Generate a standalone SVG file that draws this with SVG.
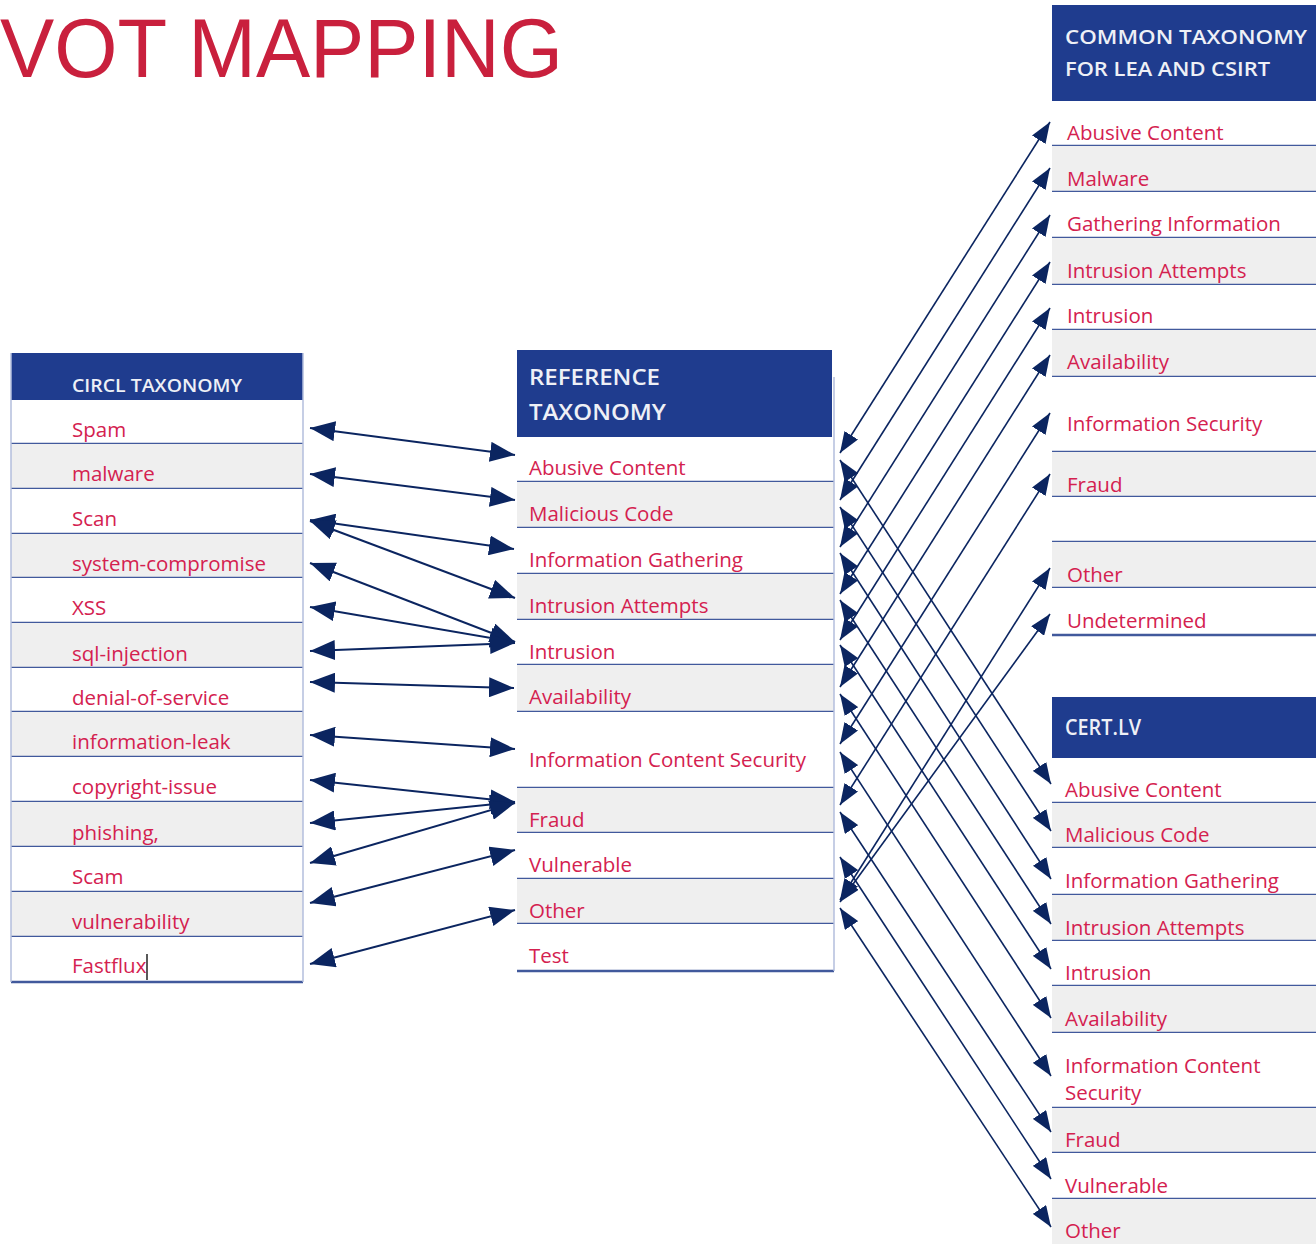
<svg xmlns="http://www.w3.org/2000/svg" width="1316" height="1244" viewBox="0 0 1316 1244">
  <style>
    .title { font-family: "Liberation Sans", Arial, sans-serif; font-size: 84px; fill: #c9203d; }
    .hdr { fill: #1f3c8e; }
    .hdrtxt { font-family: "Open Sans", "Liberation Sans", sans-serif; font-weight: 600; fill: #eef0f6; }
    .item { font-family: "Open Sans", "Liberation Sans", sans-serif; font-size: 20.5px; fill: #d4214f; }
    .gray { fill: #efefef; }
    .white { fill: #ffffff; }
    .sep { stroke: #41599c; stroke-width: 2.5; }
    .edge { stroke: #b3bedd; stroke-width: 1.5; fill: none; }
    .lnL { stroke: #0b2560; stroke-width: 2; fill: none; marker-start: url(#ahL); marker-end: url(#ahL); }
    .lnR { stroke: #0b2560; stroke-width: 1.6; fill: none; marker-start: url(#ahR); marker-end: url(#ahR); }
  </style>
  <defs>
    <marker id="ahL" markerUnits="userSpaceOnUse" viewBox="0 0 26 20" markerWidth="26" markerHeight="20" refX="25" refY="10" orient="auto-start-reverse">
      <path d="M0,0 L25,10 L0,20 z" fill="#0b2560"/>
    </marker>
    <marker id="ahR" markerUnits="userSpaceOnUse" viewBox="0 0 22 16" markerWidth="22" markerHeight="16" refX="21" refY="8" orient="auto-start-reverse">
      <path d="M0,0 L21,8 L0,16 z" fill="#0b2560"/>
    </marker>
  </defs>

  <rect x="0" y="0" width="1316" height="1244" fill="#ffffff"/>

  <text class="title" x="0" y="77" textLength="563" lengthAdjust="spacingAndGlyphs">VOT MAPPING</text>

  <!-- CIRCL taxonomy -->
  <g id="circl">
    <g id="circl-header">
      <rect class="hdr" x="11" y="353" width="292" height="47"/>
      <text class="hdrtxt" x="72" y="392" font-size="17.5" textLength="170" lengthAdjust="spacingAndGlyphs">CIRCL TAXONOMY</text>
    </g>
    <g id="circl-spam"><rect class="white" x="11" y="400" width="292" height="44"/><text class="item" x="72" y="437">Spam</text><line class="sep" x1="11" y1="444" x2="303" y2="444"/></g>
    <g id="circl-malware"><rect class="gray" x="11" y="444" width="292" height="45"/><text class="item" x="72" y="481">malware</text><line class="sep" x1="11" y1="489" x2="303" y2="489"/></g>
    <g id="circl-scan"><rect class="white" x="11" y="489" width="292" height="45"/><text class="item" x="72" y="526">Scan</text><line class="sep" x1="11" y1="534" x2="303" y2="534"/></g>
    <g id="circl-system-compromise"><rect class="gray" x="11" y="534" width="292" height="44"/><text class="item" x="72" y="571">system-compromise</text><line class="sep" x1="11" y1="578" x2="303" y2="578"/></g>
    <g id="circl-xss"><rect class="white" x="11" y="578" width="292" height="45"/><text class="item" x="72" y="615">XSS</text><line class="sep" x1="11" y1="623" x2="303" y2="623"/></g>
    <g id="circl-sql-injection"><rect class="gray" x="11" y="623" width="292" height="45"/><text class="item" x="72" y="661">sql-injection</text><line class="sep" x1="11" y1="668" x2="303" y2="668"/></g>
    <g id="circl-denial-of-service"><rect class="white" x="11" y="668" width="292" height="44"/><text class="item" x="72" y="705">denial-of-service</text><line class="sep" x1="11" y1="712" x2="303" y2="712"/></g>
    <g id="circl-information-leak"><rect class="gray" x="11" y="712" width="292" height="45"/><text class="item" x="72" y="749">information-leak</text><line class="sep" x1="11" y1="757" x2="303" y2="757"/></g>
    <g id="circl-copyright-issue"><rect class="white" x="11" y="757" width="292" height="45"/><text class="item" x="72" y="794">copyright-issue</text><line class="sep" x1="11" y1="802" x2="303" y2="802"/></g>
    <g id="circl-phishing"><rect class="gray" x="11" y="802" width="292" height="45"/><text class="item" x="72" y="840">phishing,</text><line class="sep" x1="11" y1="847" x2="303" y2="847"/></g>
    <g id="circl-scam"><rect class="white" x="11" y="847" width="292" height="45"/><text class="item" x="72" y="884">Scam</text><line class="sep" x1="11" y1="892" x2="303" y2="892"/></g>
    <g id="circl-vulnerability"><rect class="gray" x="11" y="892" width="292" height="45"/><text class="item" x="72" y="929">vulnerability</text><line class="sep" x1="11" y1="937" x2="303" y2="937"/></g>
    <g id="circl-fastflux"><rect class="white" x="11" y="937" width="292" height="45"/><text class="item" x="72" y="973">Fastflux</text><line x1="147" y1="954" x2="147" y2="980" stroke="#222222" stroke-width="1.5"/><line class="sep" x1="11" y1="982" x2="303" y2="982"/></g>
    <line class="edge" x1="11" y1="353" x2="11" y2="982"/>
    <line class="edge" x1="303" y1="353" x2="303" y2="982"/>
  </g>

  <!-- Reference taxonomy -->
  <g id="reference">
    <g id="reference-header">
      <rect class="hdr" x="517" y="350" width="315" height="87"/>
      <text class="hdrtxt" x="529" y="385" font-size="21" textLength="131" lengthAdjust="spacingAndGlyphs">REFERENCE</text>
      <text class="hdrtxt" x="529" y="420" font-size="21" textLength="137" lengthAdjust="spacingAndGlyphs">TAXONOMY</text>
    </g>
    <g id="ref-abusive-content"><rect class="white" x="517" y="437" width="317" height="45"/><text class="item" x="529" y="475">Abusive Content</text><line class="sep" x1="517" y1="482" x2="834" y2="482"/></g>
    <g id="ref-malicious-code"><rect class="gray" x="517" y="482" width="317" height="46"/><text class="item" x="529" y="521">Malicious Code</text><line class="sep" x1="517" y1="528" x2="834" y2="528"/></g>
    <g id="ref-information-gathering"><rect class="white" x="517" y="528" width="317" height="46"/><text class="item" x="529" y="567">Information Gathering</text><line class="sep" x1="517" y1="574" x2="834" y2="574"/></g>
    <g id="ref-intrusion-attempts"><rect class="gray" x="517" y="574" width="317" height="46"/><text class="item" x="529" y="613">Intrusion Attempts</text><line class="sep" x1="517" y1="620" x2="834" y2="620"/></g>
    <g id="ref-intrusion"><rect class="white" x="517" y="620" width="317" height="45"/><text class="item" x="529" y="659">Intrusion</text><line class="sep" x1="517" y1="665" x2="834" y2="665"/></g>
    <g id="ref-availability"><rect class="gray" x="517" y="665" width="317" height="47"/><text class="item" x="529" y="704">Availability</text><line class="sep" x1="517" y1="712" x2="834" y2="712"/></g>
    <g id="ref-information-content-security"><rect class="white" x="517" y="712" width="317" height="76"/><text class="item" x="529" y="767">Information Content Security</text><line class="sep" x1="517" y1="788" x2="834" y2="788"/></g>
    <g id="ref-fraud"><rect class="gray" x="517" y="788" width="317" height="45"/><text class="item" x="529" y="827">Fraud</text><line class="sep" x1="517" y1="833" x2="834" y2="833"/></g>
    <g id="ref-vulnerable"><rect class="white" x="517" y="833" width="317" height="46"/><text class="item" x="529" y="872">Vulnerable</text><line class="sep" x1="517" y1="879" x2="834" y2="879"/></g>
    <g id="ref-other"><rect class="gray" x="517" y="879" width="317" height="45"/><text class="item" x="529" y="918">Other</text><line class="sep" x1="517" y1="924" x2="834" y2="924"/></g>
    <g id="ref-test"><rect class="white" x="517" y="924" width="317" height="47"/><text class="item" x="529" y="963">Test</text><line class="sep" x1="517" y1="971" x2="834" y2="971"/></g>
    <line class="edge" x1="834" y1="377" x2="834" y2="971"/>
  </g>

  <!-- Common taxonomy for LEA and CSIRT -->
  <g id="common">
    <g id="common-header">
      <rect class="hdr" x="1052" y="5" width="264" height="96"/>
      <text class="hdrtxt" x="1065" y="44" font-size="20" textLength="242" lengthAdjust="spacingAndGlyphs">COMMON TAXONOMY</text>
      <text class="hdrtxt" x="1065" y="76" font-size="20" textLength="205" lengthAdjust="spacingAndGlyphs">FOR LEA AND CSIRT</text>
    </g>
    <g id="common-abusive-content"><rect class="white" x="1052" y="101" width="264" height="45"/><text class="item" x="1067" y="140">Abusive Content</text><line class="sep" x1="1052" y1="146" x2="1316" y2="146"/></g>
    <g id="common-malware"><rect class="gray" x="1052" y="146" width="264" height="46"/><text class="item" x="1067" y="186">Malware</text><line class="sep" x1="1052" y1="192" x2="1316" y2="192"/></g>
    <g id="common-gathering-information"><rect class="white" x="1052" y="192" width="264" height="46"/><text class="item" x="1067" y="231">Gathering Information</text><line class="sep" x1="1052" y1="238" x2="1316" y2="238"/></g>
    <g id="common-intrusion-attempts"><rect class="gray" x="1052" y="238" width="264" height="47"/><text class="item" x="1067" y="278">Intrusion Attempts</text><line class="sep" x1="1052" y1="285" x2="1316" y2="285"/></g>
    <g id="common-intrusion"><rect class="white" x="1052" y="285" width="264" height="45"/><text class="item" x="1067" y="323">Intrusion</text><line class="sep" x1="1052" y1="330" x2="1316" y2="330"/></g>
    <g id="common-availability"><rect class="gray" x="1052" y="330" width="264" height="47"/><text class="item" x="1067" y="369">Availability</text><line class="sep" x1="1052" y1="377" x2="1316" y2="377"/></g>
    <g id="common-information-security"><rect class="white" x="1052" y="377" width="264" height="75"/><text class="item" x="1067" y="431">Information Security</text><line class="sep" x1="1052" y1="452" x2="1316" y2="452"/></g>
    <g id="common-fraud"><rect class="gray" x="1052" y="452" width="264" height="45"/><text class="item" x="1067" y="492">Fraud</text><line class="sep" x1="1052" y1="497" x2="1316" y2="497"/></g>
    <g id="common-blank"><rect class="white" x="1052" y="497" width="264" height="45"/><line class="sep" x1="1052" y1="542" x2="1316" y2="542"/></g>
    <g id="common-other"><rect class="gray" x="1052" y="542" width="264" height="46"/><text class="item" x="1067" y="582">Other</text><line class="sep" x1="1052" y1="588" x2="1316" y2="588"/></g>
    <g id="common-undetermined"><rect class="white" x="1052" y="588" width="264" height="47"/><text class="item" x="1067" y="628">Undetermined</text><line class="sep" x1="1052" y1="635" x2="1316" y2="635"/></g>
  </g>

  <!-- CERT.LV -->
  <g id="certlv">
    <g id="certlv-header">
      <rect class="hdr" x="1052" y="697" width="264" height="61"/>
      <text class="hdrtxt" x="1065" y="735" font-size="21" textLength="76" lengthAdjust="spacingAndGlyphs">CERT.LV</text>
    </g>
    <g id="cert-abusive-content"><rect class="white" x="1052" y="758" width="264" height="45"/><text class="item" x="1065" y="797">Abusive Content</text><line class="sep" x1="1052" y1="803" x2="1316" y2="803"/></g>
    <g id="cert-malicious-code"><rect class="gray" x="1052" y="803" width="264" height="45"/><text class="item" x="1065" y="842">Malicious Code</text><line class="sep" x1="1052" y1="848" x2="1316" y2="848"/></g>
    <g id="cert-information-gathering"><rect class="white" x="1052" y="848" width="264" height="47"/><text class="item" x="1065" y="888">Information Gathering</text><line class="sep" x1="1052" y1="895" x2="1316" y2="895"/></g>
    <g id="cert-intrusion-attempts"><rect class="gray" x="1052" y="895" width="264" height="46"/><text class="item" x="1065" y="935">Intrusion Attempts</text><line class="sep" x1="1052" y1="941" x2="1316" y2="941"/></g>
    <g id="cert-intrusion"><rect class="white" x="1052" y="941" width="264" height="45"/><text class="item" x="1065" y="980">Intrusion</text><line class="sep" x1="1052" y1="986" x2="1316" y2="986"/></g>
    <g id="cert-availability"><rect class="gray" x="1052" y="986" width="264" height="47"/><text class="item" x="1065" y="1026">Availability</text><line class="sep" x1="1052" y1="1033" x2="1316" y2="1033"/></g>
    <g id="cert-information-content-security"><rect class="white" x="1052" y="1033" width="264" height="75"/><text class="item" x="1065" y="1073">Information Content</text><text class="item" x="1065" y="1100">Security</text><line class="sep" x1="1052" y1="1108" x2="1316" y2="1108"/></g>
    <g id="cert-fraud"><rect class="gray" x="1052" y="1108" width="264" height="45"/><text class="item" x="1065" y="1147">Fraud</text><line class="sep" x1="1052" y1="1153" x2="1316" y2="1153"/></g>
    <g id="cert-vulnerable"><rect class="white" x="1052" y="1153" width="264" height="46"/><text class="item" x="1065" y="1193">Vulnerable</text><line class="sep" x1="1052" y1="1199" x2="1316" y2="1199"/></g>
    <g id="cert-other"><rect class="gray" x="1052" y="1199" width="264" height="45"/><text class="item" x="1065" y="1238">Other</text></g>
  </g>

  <!-- Connectors -->
  <g id="connectors">
    <!-- CIRCL to reference -->
    <line class="lnL" x1="310" y1="428" x2="515" y2="455"/>
    <line class="lnL" x1="310" y1="474" x2="515" y2="500"/>
    <line class="lnL" x1="310" y1="520" x2="514" y2="549"/>
    <line class="lnL" x1="310" y1="521" x2="515" y2="598"/>
    <line class="lnL" x1="310" y1="563" x2="515" y2="642"/>
    <line class="lnL" x1="310" y1="607" x2="515" y2="642"/>
    <line class="lnL" x1="310" y1="651" x2="515" y2="643"/>
    <line class="lnL" x1="310" y1="682" x2="514" y2="688"/>
    <line class="lnL" x1="310" y1="735" x2="515" y2="749"/>
    <line class="lnL" x1="310" y1="780" x2="515" y2="802"/>
    <line class="lnL" x1="310" y1="823" x2="515" y2="802"/>
    <line class="lnL" x1="310" y1="863" x2="515" y2="803"/>
    <line class="lnL" x1="310" y1="903" x2="515" y2="850"/>
    <line class="lnL" x1="310" y1="964" x2="515" y2="910"/>
    <!-- reference to common taxonomy -->
    <line class="lnR" x1="840" y1="453" x2="1050" y2="122"/>
    <line class="lnR" x1="840" y1="500" x2="1050" y2="168"/>
    <line class="lnR" x1="840" y1="547" x2="1050" y2="215"/>
    <line class="lnR" x1="840" y1="594" x2="1050" y2="262"/>
    <line class="lnR" x1="840" y1="640" x2="1050" y2="308"/>
    <line class="lnR" x1="840" y1="687" x2="1050" y2="355"/>
    <line class="lnR" x1="840" y1="744" x2="1050" y2="413"/>
    <line class="lnR" x1="840" y1="805" x2="1050" y2="474"/>
    <line class="lnR" x1="840" y1="900" x2="1050" y2="568"/>
    <line class="lnR" x1="840" y1="902" x2="1050" y2="614"/>
    <!-- reference to CERT.LV -->
    <line class="lnR" x1="840" y1="460" x2="1051" y2="784"/>
    <line class="lnR" x1="840" y1="507" x2="1051" y2="831"/>
    <line class="lnR" x1="840" y1="553" x2="1051" y2="879"/>
    <line class="lnR" x1="840" y1="600" x2="1051" y2="924"/>
    <line class="lnR" x1="840" y1="645" x2="1051" y2="969"/>
    <line class="lnR" x1="840" y1="694" x2="1051" y2="1018"/>
    <line class="lnR" x1="840" y1="752" x2="1051" y2="1076"/>
    <line class="lnR" x1="840" y1="812" x2="1051" y2="1132"/>
    <line class="lnR" x1="840" y1="857" x2="1051" y2="1179"/>
    <line class="lnR" x1="840" y1="908" x2="1051" y2="1227"/>
  </g>
</svg>
